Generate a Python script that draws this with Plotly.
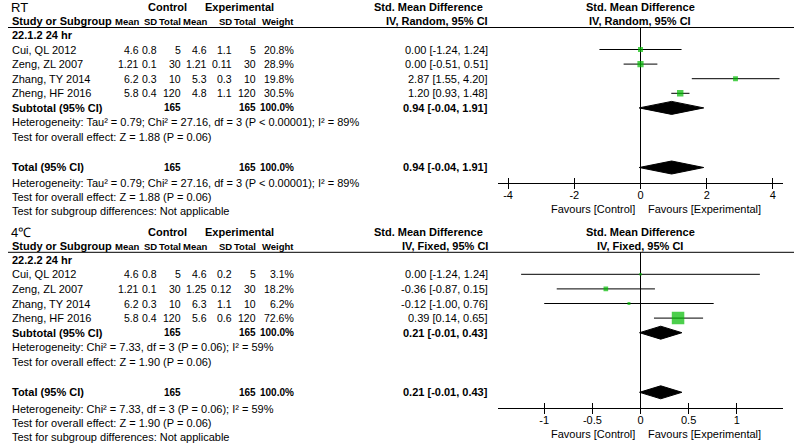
import plotly.graph_objects as go

# ---------------- data ----------------
panel_titles = ["RT", "4℃"]
subgroup_labels = ["22.1.2 24 hr", "22.2.2 24 hr"]
model_labels = ["IV, Random, 95% CI", "IV, Fixed, 95% CI"]
studies = ["Cui, QL 2012", "Zeng, ZL 2007", "Zhang, TY 2014", "Zheng, HF 2016"]

ctrl_mean = [4.6, 1.21, 6.2, 5.8]
ctrl_sd = [0.8, 0.1, 0.3, 0.4]
ctrl_n = [5, 30, 10, 120]

rt_exp_mean = [4.6, 1.21, 5.3, 4.8]
rt_exp_sd = [1.1, 0.11, 0.3, 1.1]
rt_exp_n = [5, 30, 10, 120]
rt_weight = [20.8, 28.9, 19.8, 30.5]
rt_weight_total = 100.0
rt_smd = [0.00, 0.00, 2.87, 1.20]
rt_lo = [-1.24, -0.51, 1.55, 0.93]
rt_hi = [1.24, 0.51, 4.20, 1.48]
rt_pooled = [0.94, -0.04, 1.91]

c4_exp_mean = [4.6, 1.25, 6.3, 5.6]
c4_exp_sd = [0.2, 0.12, 1.1, 0.6]
c4_exp_n = [5, 30, 10, 120]
c4_weight = [3.1, 18.2, 6.2, 72.6]
c4_weight_total = 100.0
c4_smd = [0.00, -0.36, -0.12, 0.39]
c4_lo = [-1.24, -0.87, -1.00, 0.14]
c4_hi = [1.24, 0.15, 0.76, 0.65]
c4_pooled = [0.21, -0.01, 0.43]

rt_het = "Heterogeneity: Tau² = 0.79; Chi² = 27.16, df = 3 (P < 0.00001); I² = 89%"
rt_z = "Test for overall effect: Z = 1.88 (P = 0.06)"
c4_het = "Heterogeneity: Chi² = 7.33, df = 3 (P = 0.06); I² = 59%"
c4_z = "Test for overall effect: Z = 1.90 (P = 0.06)"
subgroup_test = "Test for subgroup differences: Not applicable"

rt_ticks = [-4, -2, 0, 2, 4]
rt_ticklabels = ["-4", "-2", "0", "2", "4"]
c4_ticks = [-1, -0.5, 0, 0.5, 1]
c4_ticklabels = ["-1", "-0.5", "0", "0.5", "1"]

panels = [
    dict(title=panel_titles[0], sub=subgroup_labels[0], model=model_labels[0],
         cm=ctrl_mean, cs=ctrl_sd, cn=ctrl_n, em=rt_exp_mean, es=rt_exp_sd, en=rt_exp_n,
         w=rt_weight, wt=rt_weight_total, smd=rt_smd, lo=rt_lo, hi=rt_hi, pooled=rt_pooled,
         het=rt_het, z=rt_z, ticks=rt_ticks, ticklabels=rt_ticklabels, half=4.305),
    dict(title=panel_titles[1], sub=subgroup_labels[1], model=model_labels[1],
         cm=ctrl_mean, cs=ctrl_sd, cn=ctrl_n, em=c4_exp_mean, es=c4_exp_sd, en=c4_exp_n,
         w=c4_weight, wt=c4_weight_total, smd=c4_smd, lo=c4_lo, hi=c4_hi, pooled=c4_pooled,
         het=c4_het, z=c4_z, ticks=c4_ticks, ticklabels=c4_ticklabels, half=1.48),
]

# ---------------- layout constants (pixels) ----------------
W, H = 794, 446
FONT = "Liberation Sans, Arial, sans-serif"
FS = 11          # general text
FS_NUM = 10.5    # table numbers
FS_SUMNUM = 10   # bold subtotal numbers
FS_HEAD = 9.5    # column headers
GREEN = "#00BB00"
OFFSETS = [0, 224.8]
TAIL_EXTRA = [0, 2]
TITLE_Y, H2_Y, LINE_Y, SUB_Y = 7.5, 21.5, 27.5, 35.5
ROW0, STEP = 49.5, 14.6
TOTAL_Y, AXIS_Y = 167.5, 183
TOT_HET_Y, TOT_Z_Y, SG_Y = 182.5, 196.5, 210.5
FAV_Y = 209
PLOT_L, PLOT_R = 498, 783
COLS = dict(cm=140, cs=158, cn=182, em=208, es=233, en=257, w=295, ci=489)


def px(x):
    return x / W


def py(y):
    return 1 - y / H


fig = go.Figure()
annotations = []
shapes = []


def txt(x, y, s, anchor="left", bold=False, size=FS):
    annotations.append(dict(
        x=px(x), y=py(y), xref="paper", yref="paper", text=(f"<b>{s}</b>" if bold else s),
        xanchor=anchor, yanchor="middle", showarrow=False,
        font=dict(family=FONT, size=size, color="black"), borderpad=0))


for k, p in enumerate(panels):
    off = OFFSETS[k]
    toff = off + TAIL_EXTRA[k]
    xa = "x" if k == 0 else f"x{k * 2 + 1}"
    ya = "y" if k == 0 else f"y{k + 1}"
    xname = "xaxis" if k == 0 else f"xaxis{k * 2 + 1}"
    xover = f"xaxis{k * 2 + 2}"
    yname = "yaxis" if k == 0 else f"yaxis{k + 1}"

    # headers
    txt(10, TITLE_Y + off, p["title"], size=13)
    txt(167, TITLE_Y + off, "Control", "center", True)
    txt(239, TITLE_Y + off, "Experimental", "center", True)
    txt(428, TITLE_Y + off, "Std. Mean Difference", "center", True)
    txt(640, TITLE_Y + off, "Std. Mean Difference", "center", True)
    txt(11, H2_Y + off, "Study or Subgroup", "left", True)
    for key, lab in [("cm", "Mean"), ("cs", "SD"), ("cn", "Total"), ("em", "Mean"),
                     ("es", "SD"), ("en", "Total"), ("w", "Weight")]:
        txt(COLS[key], H2_Y + off, lab, "right", True, size=FS_HEAD)
    txt(COLS["ci"], H2_Y + off, p["model"], "right", True)
    txt(640, H2_Y + off, p["model"], "center", True)
    shapes.append(dict(type="line", xref="paper", yref="paper", x0=px(8), x1=px(794),
                       y0=py(LINE_Y + off), y1=py(LINE_Y + off), line=dict(color="black", width=1)))
    txt(11, SUB_Y + off, p["sub"], "left", True)

    # study rows
    row_y = [ROW0 + i * STEP for i in range(len(studies))]
    for i, s in enumerate(studies):
        y = row_y[i] + off
        txt(11, y, s)
        for key in ["cm", "cs", "cn", "em", "es", "en"]:
            txt(COLS[key], y, str(p[key][i]), "right", size=FS_NUM)
        txt(COLS["w"], y, f"{p['w'][i]:.1f}%", "right", size=FS_NUM)
        txt(COLS["ci"], y, f"{p['smd'][i]:.2f} [{p['lo'][i]:.2f}, {p['hi'][i]:.2f}]", "right")

    sub_y = ROW0 + len(studies) * STEP
    pooled_txt = f"{p['pooled'][0]:.2f} [{p['pooled'][1]:.2f}, {p['pooled'][2]:.2f}]"
    for yy, lab in [(sub_y, "Subtotal (95% CI)"), (TOTAL_Y, "Total (95% CI)")]:
        txt(11, yy + off, lab, "left", True)
        txt(COLS["cn"], yy + off, str(sum(p["cn"])), "right", True, size=FS_SUMNUM)
        txt(COLS["en"], yy + off, str(sum(p["en"])), "right", True, size=FS_SUMNUM)
        txt(COLS["w"], yy + off, f"{p['wt']:.1f}%", "right", True, size=FS_SUMNUM)
        txt(COLS["ci"], yy + off, pooled_txt, "right", True)
    txt(11, sub_y + STEP + off, p["het"])
    txt(11, sub_y + 2 * STEP + off, p["z"])
    txt(11, TOT_HET_Y + toff, p["het"])
    txt(11, TOT_Z_Y + toff, p["z"])
    txt(11, SG_Y + toff, subgroup_test)

    txt(636, FAV_Y + off, "Favours [Control]", "right")
    txt(647, FAV_Y + off, "Favours [Experimental]", "left")

    # CI lines
    lx, ly = [], []
    for i in range(len(studies)):
        lx += [p["lo"][i], p["hi"][i], None]
        ly += [row_y[i], row_y[i], None]
    fig.add_trace(go.Scatter(x=lx, y=ly, mode="lines", line=dict(color="black", width=1),
                             xaxis=xa, yaxis=ya, hoverinfo="skip", showlegend=False))
    # squares sized by weight
    fig.add_trace(go.Scatter(x=p["smd"], y=row_y, mode="markers",
                             marker=dict(symbol="square", color=GREEN,
                                         size=[2 + 0.145 * w for w in p["w"]], line=dict(width=0)),
                             xaxis=xa, yaxis=ya, showlegend=False))
    # diamonds
    est, lo, hi = p["pooled"]
    hh = 6.5
    for yy in [sub_y, TOTAL_Y]:
        fig.add_trace(go.Scatter(x=[lo, est, hi, est, lo], y=[yy, yy - hh, yy, yy + hh, yy],
                                 mode="lines", fill="toself", fillcolor="black",
                                 line=dict(color="black", width=1),
                                 xaxis=xa, yaxis=ya, showlegend=False))

    rng = [-p["half"], p["half"]]
    fig.layout[xname] = dict(domain=[px(PLOT_L), px(PLOT_R)], range=rng, anchor=ya,
                             showline=True, linecolor="black", linewidth=1,
                             zeroline=True, zerolinecolor="black", zerolinewidth=1,
                             showgrid=False, tickmode="array", tickvals=p["ticks"],
                             ticktext=p["ticklabels"], ticks="inside", ticklen=5,
                             tickcolor="black", tickwidth=1, ticklabelstandoff=2,
                             tickfont=dict(family=FONT, size=FS, color="black"), fixedrange=True)
    fig.layout[xover] = dict(overlaying=xa, range=rng, anchor=ya, showline=False, zeroline=False,
                             showgrid=False, tickmode="array", tickvals=p["ticks"],
                             ticks="outside", ticklen=5, tickcolor="black", tickwidth=1,
                             showticklabels=False, side="bottom", fixedrange=True)
    fig.layout[yname] = dict(domain=[py(AXIS_Y + off), py(LINE_Y + off)],
                             range=[AXIS_Y, LINE_Y], visible=False, showgrid=False,
                             zeroline=False, fixedrange=True)
    # invisible trace so the overlay tick axis is drawn
    fig.add_trace(go.Scatter(x=[0], y=[AXIS_Y], mode="markers", marker=dict(opacity=0),
                             xaxis=f"x{k * 2 + 2}", yaxis=ya, showlegend=False, hoverinfo="skip"))

fig.update_layout(width=W, height=H, margin=dict(l=0, r=0, t=0, b=0),
                  paper_bgcolor="white", plot_bgcolor="rgba(0,0,0,0)",
                  font=dict(family=FONT, size=FS, color="black"),
                  annotations=annotations, shapes=shapes, showlegend=False)
fig.write_html("out.html", config={"displayModeBar": False},
               post_script="document.body.style.margin='0px';")
